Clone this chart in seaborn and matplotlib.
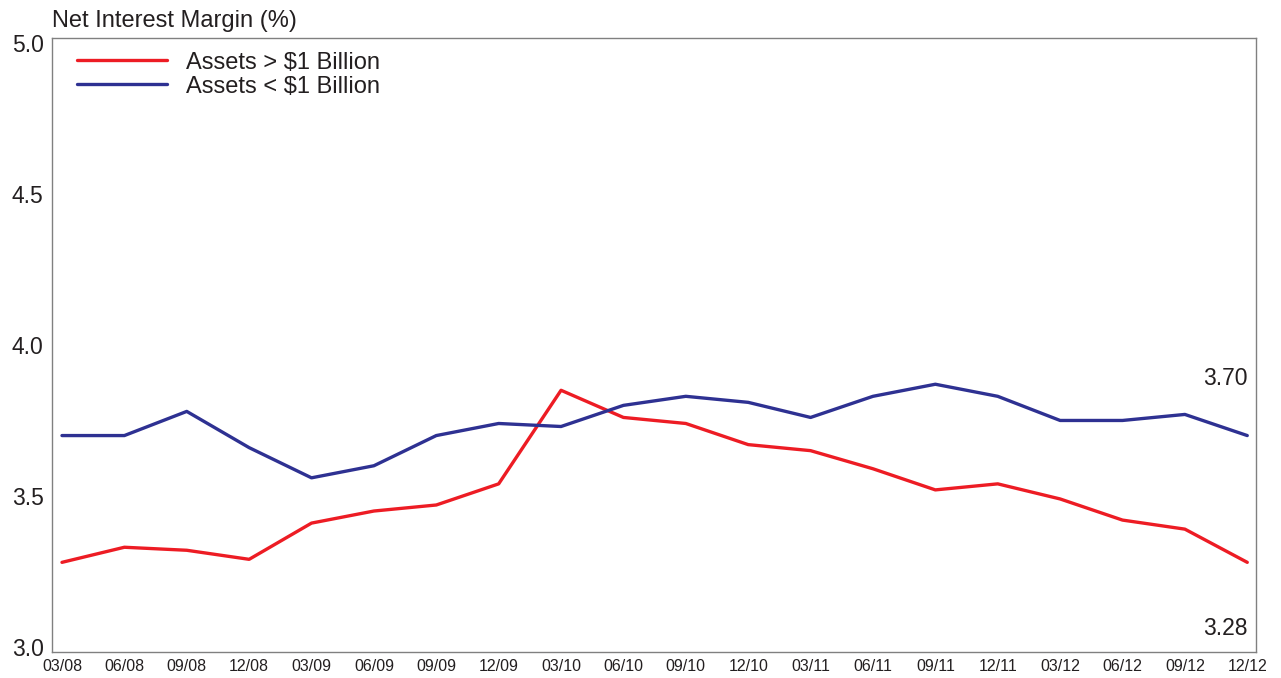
import matplotlib
matplotlib.use("Agg")
import matplotlib.pyplot as plt
import seaborn as sns
import pandas as pd

quarters = ["03/08", "06/08", "09/08", "12/08", "03/09", "06/09", "09/09", "12/09",
            "03/10", "06/10", "09/10", "12/10", "03/11", "06/11", "09/11", "12/11",
            "03/12", "06/12", "09/12", "12/12"]
large_banks = [3.28, 3.33, 3.32, 3.29, 3.41, 3.45, 3.47, 3.54, 3.85, 3.76,
               3.74, 3.67, 3.65, 3.59, 3.52, 3.54, 3.49, 3.42, 3.39, 3.28]
small_banks = [3.70, 3.70, 3.78, 3.66, 3.56, 3.60, 3.70, 3.74, 3.73, 3.80,
               3.83, 3.81, 3.76, 3.83, 3.87, 3.83, 3.75, 3.75, 3.77, 3.70]
series_names = ["Assets > $1 Billion", "Assets < $1 Billion"]
y_ticks = [3.0, 3.5, 4.0, 4.5, 5.0]
colors = ["#ED1C24", "#2E3192"]

sns.set_style("white")
plt.rcParams["font.family"] = ["Liberation Sans", "DejaVu Sans"]
text_color = "#231F20"

rows = []
for name, vals in zip(series_names, [large_banks, small_banks]):
    for i, v in enumerate(vals):
        rows.append({"idx": i, "value": v, "series": name})
df = pd.DataFrame(rows)

fig = plt.figure(figsize=(12.81, 6.78), dpi=100)
ax = fig.add_axes([52 / 1281, 1 - 652 / 678, (1256 - 52) / 1281, (652 - 38) / 678])

sns.lineplot(data=df, x="idx", y="value", hue="series", palette=colors,
             hue_order=series_names, linewidth=2.4, ax=ax, legend=True)

ax.set_xlim(-0.16, 19.14)
ax.set_ylim(2.983, 5.017)
ax.set_xticks(range(len(quarters)))
ax.set_xticklabels(quarters, fontsize=11.5, color=text_color)
ax.set_yticks(y_ticks)
ax.set_yticklabels([f"{t:.1f}" for t in y_ticks], fontsize=16.5, color=text_color)
ax.tick_params(axis="x", length=0, pad=5)
ax.tick_params(axis="y", direction="in", length=10, width=1, color="#808080", pad=6)
ax.set_xlabel("")
ax.set_ylabel("")
for s in ax.spines.values():
    s.set_color("#808080")
    s.set_linewidth(1)

ax.text(0.0, 1.010, "Net Interest Margin (%)", transform=ax.transAxes,
        ha="left", va="bottom", fontsize=17, color=text_color)

ax.text(19.0, 3.89, f"{small_banks[-1]:.2f}", ha="right", va="center",
        fontsize=16.5, color=text_color)
ax.text(19.0, 3.06, f"{large_banks[-1]:.2f}", ha="right", va="center",
        fontsize=16.5, color=text_color)

leg = ax.legend(loc="upper left", bbox_to_anchor=(0.0132, 0.993), frameon=False,
                fontsize=17, handlelength=3.8, handletextpad=0.8,
                labelspacing=0.08, borderaxespad=0)
for t in leg.get_texts():
    t.set_color(text_color)

fig.savefig("out.png", dpi=100)
